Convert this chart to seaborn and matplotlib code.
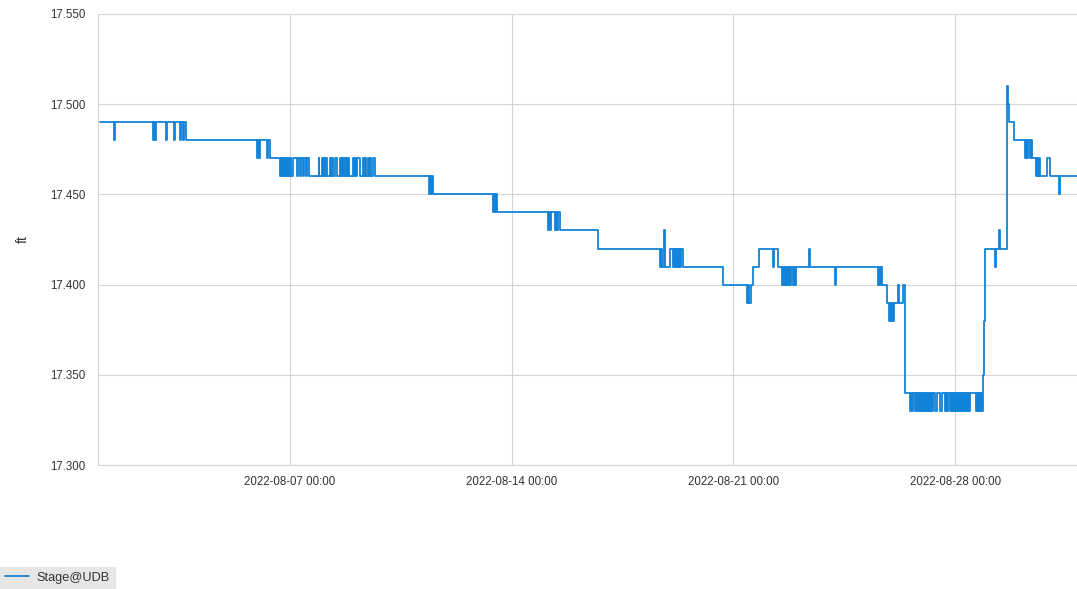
import matplotlib.pyplot as plt
import matplotlib.dates as mdates
import pandas as pd
import seaborn as sns

start = pd.Timestamp('2022-08-01 00:00')

# stage record, one entry per change: days after start and stage (ft)
t_day = [
    0.00, 0.44, 0.47, 1.67, 1.70, 1.73, 1.77, 2.09, 2.13, 2.34, 2.38, 2.53, 2.56, 2.62, 2.65, 2.72,
    4.96, 4.99, 5.02, 5.05, 5.27, 5.30, 5.37,
    5.68, 5.71, 5.74, 5.77, 5.80, 5.83, 5.86, 5.89, 5.92, 5.95, 5.98, 6.01, 6.04, 6.08,
    6.22, 6.25, 6.32, 6.35, 6.41, 6.44, 6.51, 6.54, 6.60,
    6.90, 6.93, 7.01, 7.04, 7.07, 7.10, 7.14, 7.18, 7.26, 7.29, 7.33, 7.36, 7.42, 7.48,
    7.58, 7.61, 7.64, 7.67, 7.71, 7.74, 7.77, 7.80, 7.83, 7.86,
    7.99, 8.02, 8.05, 8.08, 8.12, 8.21, 8.31, 8.34, 8.37, 8.40, 8.46, 8.49, 8.53, 8.56, 8.62, 8.68,
    10.39, 10.42, 10.45, 10.49, 10.52, 12.41, 12.44, 12.47, 12.50, 12.54,
    14.15, 14.18, 14.21, 14.25, 14.37, 14.40, 14.44, 14.47, 14.52, 15.73,
    17.68, 17.71, 17.74, 17.81, 17.83, 17.99, 18.09, 18.12, 18.15, 18.18, 18.21, 18.24, 18.27, 18.30, 18.33, 18.36, 18.40,
    19.67, 20.43, 20.46, 20.48, 20.56, 20.62, 20.81, 21.25, 21.27, 21.41,
    21.54, 21.56, 21.60, 21.63, 21.66, 21.69, 21.72, 21.75, 21.79, 21.82, 21.88, 21.90, 21.95, 21.98,
    22.39, 22.41, 23.21, 23.23, 24.57, 24.60, 24.63, 24.66, 24.69,
    24.85, 24.91, 24.94, 24.97, 25.00, 25.03, 25.07, 25.20, 25.23, 25.36, 25.42,
    25.58, 25.61, 25.64, 25.67,
    25.74, 25.77, 25.80, 25.83, 25.86, 25.89, 25.92, 25.95, 25.98, 26.01,
    26.04, 26.07, 26.10, 26.13, 26.16, 26.19, 26.22, 26.25, 26.28, 26.31,
    26.37, 26.43, 26.53, 26.59, 26.68, 26.72, 26.75, 26.78,
    26.84, 26.87, 26.90, 26.93, 26.96, 26.99, 27.02, 27.05, 27.08, 27.11, 27.14,
    27.17, 27.20, 27.23, 27.26, 27.29, 27.32, 27.35, 27.38, 27.41, 27.44, 27.47,
    27.66, 27.69, 27.72, 27.75, 27.78, 27.81, 27.84,
    27.885, 27.895, 27.905, 27.915, 27.925, 27.935, 27.945, 27.955,
    28.26, 28.29, 28.39, 28.41, 28.64, 28.67, 28.70, 28.86,
    29.21, 29.24, 29.27, 29.30, 29.37, 29.40, 29.43,
    29.56, 29.59, 29.62, 29.65, 29.68, 29.90, 30.00, 30.29, 30.31, 30.85,
]
stage_ft = [
    17.49, 17.48, 17.49, 17.48, 17.49, 17.48, 17.49, 17.48, 17.49, 17.48, 17.49, 17.48, 17.49, 17.48, 17.49, 17.48,
    17.47, 17.48, 17.47, 17.48, 17.47, 17.48, 17.47,
    17.46, 17.47, 17.46, 17.47, 17.46, 17.47, 17.46, 17.47, 17.46, 17.47, 17.46, 17.47, 17.46, 17.47,
    17.46, 17.47, 17.46, 17.47, 17.46, 17.47, 17.46, 17.47, 17.46,
    17.47, 17.46, 17.47, 17.46, 17.47, 17.46, 17.47, 17.46, 17.47, 17.46, 17.47, 17.46, 17.47, 17.46,
    17.47, 17.46, 17.47, 17.46, 17.47, 17.46, 17.47, 17.46, 17.47, 17.46,
    17.47, 17.46, 17.47, 17.46, 17.47, 17.46, 17.47, 17.46, 17.47, 17.46, 17.47, 17.46, 17.47, 17.46, 17.47, 17.46,
    17.45, 17.46, 17.45, 17.46, 17.45, 17.44, 17.45, 17.44, 17.45, 17.44,
    17.43, 17.44, 17.43, 17.44, 17.43, 17.44, 17.43, 17.44, 17.43, 17.42,
    17.41, 17.42, 17.41, 17.43, 17.41, 17.42, 17.41, 17.42, 17.41, 17.42, 17.41, 17.42, 17.41, 17.42, 17.41, 17.42, 17.41,
    17.40, 17.39, 17.40, 17.39, 17.40, 17.41, 17.42, 17.41, 17.42, 17.41,
    17.40, 17.41, 17.40, 17.41, 17.40, 17.41, 17.40, 17.41, 17.40, 17.41, 17.40, 17.41, 17.40, 17.41,
    17.42, 17.41, 17.40, 17.41, 17.40, 17.41, 17.40, 17.41, 17.40,
    17.39, 17.38, 17.39, 17.38, 17.39, 17.38, 17.39, 17.40, 17.39, 17.40, 17.34,
    17.33, 17.34, 17.33, 17.34,
    17.33, 17.34, 17.33, 17.34, 17.33, 17.34, 17.33, 17.34, 17.33, 17.34,
    17.33, 17.34, 17.33, 17.34, 17.33, 17.34, 17.33, 17.34, 17.33, 17.34,
    17.33, 17.34, 17.33, 17.34, 17.33, 17.34, 17.33, 17.34,
    17.33, 17.34, 17.33, 17.34, 17.33, 17.34, 17.33, 17.34, 17.33, 17.34, 17.33,
    17.34, 17.33, 17.34, 17.33, 17.34, 17.33, 17.34, 17.33, 17.34, 17.33, 17.34,
    17.33, 17.34, 17.33, 17.34, 17.33, 17.34, 17.33,
    17.34, 17.35, 17.36, 17.37, 17.38, 17.39, 17.41, 17.42,
    17.41, 17.42, 17.43, 17.42, 17.51, 17.50, 17.49, 17.48,
    17.47, 17.48, 17.47, 17.48, 17.47, 17.48, 17.47,
    17.46, 17.47, 17.46, 17.47, 17.46, 17.47, 17.46, 17.45, 17.46, 17.46,
]
assert len(t_day) == len(stage_ft)

week_ticks = ['2022-08-07', '2022-08-14', '2022-08-21', '2022-08-28']
y_ticks = [17.30, 17.35, 17.40, 17.45, 17.50, 17.55]
series_name = 'Stage@UDB'
unit = 'ft'

df = pd.DataFrame({'time': start + pd.to_timedelta(t_day, unit='D'), 'stage': stage_ft})

sns.set_theme(style='white')
plt.rcParams['font.family'] = ['Liberation Sans', 'DejaVu Sans']

fig = plt.figure(figsize=(10.77, 5.89), dpi=100)
ax = fig.add_axes([98 / 1077, 1 - 465 / 589, 979 / 1077, 451 / 589])

sns.lineplot(data=df, x='time', y='stage', drawstyle='steps-post', color='#1283d8',
             linewidth=1.3, estimator=None, label=series_name, ax=ax)

ax.set_xlim(start - pd.Timedelta(hours=1.5), start + pd.Timedelta(days=30.85))
ax.set_ylim(y_ticks[0], y_ticks[-1])
ax.set_xticks(pd.to_datetime(week_ticks))
ax.xaxis.set_major_formatter(mdates.DateFormatter('%Y-%m-%d %H:%M'))
ax.set_yticks(y_ticks)
ax.yaxis.set_major_formatter(plt.FormatStrFormatter('%.3f'))
ax.tick_params(length=0, labelsize=8.3, colors='#333333')
ax.tick_params(axis='y', pad=9)
ax.tick_params(axis='x', pad=8)
ax.grid(True, color='#d4d4d4', linewidth=0.8)
for side in ['top', 'right']:
    ax.spines[side].set_visible(False)
for side in ['left', 'bottom']:
    ax.spines[side].set_color('#d4d4d4')
    ax.spines[side].set_linewidth(0.8)

ax.set_xlabel('')
ax.set_ylabel(unit, fontsize=10, color='#333333')
ax.yaxis.set_label_coords(-68 / 979, 0.5)

handles, labels = ax.get_legend_handles_labels()
ax.get_legend().remove()
fig.legend(handles, labels, loc='lower left', bbox_to_anchor=(0, 0), frameon=True,
           facecolor='#e6e6e6', edgecolor='#e6e6e6', fancybox=False, framealpha=1,
           fontsize=9.2, handlelength=1.85, handletextpad=0.6, borderpad=0.4,
           borderaxespad=0, labelcolor='#333333')

fig.savefig('out.png', dpi=100)
